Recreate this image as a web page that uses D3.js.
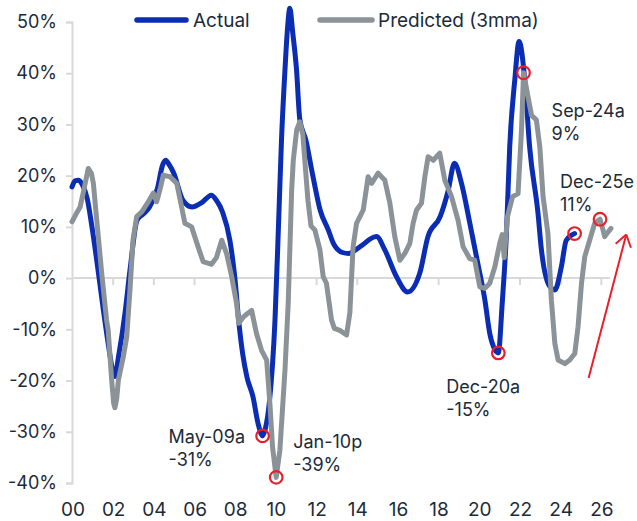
<!DOCTYPE html>
<html>
<head>
<meta charset="utf-8">
<script src="https://cdn.jsdelivr.net/npm/d3@7"></script>
<style>
  body { margin: 0; background: #fff; }
  text { font-family: Inter, "Open Sans", sans-serif; fill: #1c2b39; }
</style>
</head>
<body>
<div id="chart"></div>
<script>
// decimal years and % values
const actualYears = [2000.0, 2000.15, 2000.3, 2000.5, 2000.75, 2001.0, 2001.25, 2001.5, 2001.75, 2002.0, 2002.1, 2002.3, 2002.6, 2002.85,
  2003.2, 2003.5, 2003.8, 2004.2, 2004.45, 2004.6, 2004.8, 2005.0, 2005.45, 2005.9, 2006.4, 2006.85, 2007.1, 2007.4, 2007.76,
  2008.0, 2008.2, 2008.4, 2008.6, 2008.9, 2009.15, 2009.37, 2009.5, 2009.7, 2009.98, 2010.15, 2010.3, 2010.47, 2010.6, 2010.71,
  2010.85, 2011.04, 2011.2, 2011.5, 2011.85, 2012.2, 2012.6, 2012.85, 2013.3, 2013.6, 2014.15, 2014.97, 2015.38, 2015.95, 2016.5,
  2017.1, 2017.5, 2018.1, 2018.5, 2018.8, 2019.15, 2019.56, 2019.95, 2020.3, 2020.54, 2020.8, 2020.96, 2021.15, 2021.36, 2021.52,
  2021.77, 2021.98, 2022.26, 2022.5, 2022.91, 2023.08, 2023.5, 2023.74, 2024.06, 2024.3, 2024.71];
const actualValues = [17.8, 19.0, 19.1, 18.3, 15.5, 9.5, 2.5, -5, -12, -18, -19.2, -15, -7, 1.5,
  11.3, 12.5, 13.8, 17.5, 22, 23, 22, 20.5, 15.2, 13.9, 14.8, 16.2, 15.2, 12.9, 7.4,
  0.3, -8.5, -15, -19.3, -23.2, -28.4, -30.8, -29.5, -24.4, -8.2, 10, 27, 40.6, 49, 52.7,
  48, 40.6, 31, 26.9, 19.8, 13.3, 9.4, 6.8, 5, 4.8, 6.1, 8.1, 5.5, 0.3, -2.7,
  1, 8.1, 12, 17.2, 22.4, 18.5, 10.7, 2.9, -4.3, -10.8, -14, -14.6, -5, 8.8, 25.6,
  38.7, 46.2, 38.7, 25.6, 12.7, 5.5, -1.7, -2.3, 2.2, 7.4, 8.7];

const predYears = [2000.0, 2000.2, 2000.4, 2000.55, 2000.8, 2000.95, 2001.05, 2001.2, 2001.46, 2001.7, 2001.78, 2001.95, 2002.05,
  2002.11, 2002.2, 2002.28, 2002.52, 2002.69, 2002.85, 2003.0, 2003.18, 2003.42, 2003.75, 2004.0, 2004.16, 2004.32, 2004.49,
  2004.82, 2005.15, 2005.39, 2005.55, 2005.88, 2006.2, 2006.45, 2006.86, 2007.1, 2007.36, 2007.6, 2007.85, 2008.09, 2008.2,
  2008.42, 2008.6, 2008.83, 2009.07, 2009.32, 2009.57, 2009.73, 2009.86, 2010.04, 2010.22, 2010.47, 2010.63, 2010.8, 2010.88,
  2011.05, 2011.2, 2011.35, 2011.6, 2011.75, 2011.94, 2012.19, 2012.35, 2012.51, 2012.76, 2012.9, 2013.17, 2013.5, 2013.66,
  2013.82, 2013.99, 2014.32, 2014.56, 2014.73, 2015.05, 2015.38, 2015.63, 2015.87, 2016.12, 2016.36, 2016.61, 2016.77, 2016.94,
  2017.18, 2017.35, 2017.51, 2017.76, 2018.08, 2018.33, 2018.66, 2018.98, 2019.23, 2019.56, 2019.8, 2020.05, 2020.3, 2020.54,
  2020.79, 2021.03, 2021.15, 2021.25, 2021.41, 2021.66, 2021.93, 2022.1, 2022.2, 2022.3, 2022.42, 2022.59, 2022.83, 2023.0,
  2023.16, 2023.4, 2023.57, 2023.74, 2023.9, 2024.23, 2024.47, 2024.72, 2024.88, 2025.05, 2025.21, 2025.45, 2025.7, 2025.96,
  2026.1, 2026.19, 2026.3, 2026.5];
const predValues = [11.0, 12.5, 13.9, 16.6, 21.4, 20.5, 18.5, 12, 1, -8.2, -10.2, -19.9, -24.5,
  -25.3, -23.5, -19.9, -15.4, -11.5, -2.3, 7.4, 12, 12.9, 14.9, 16.6, 14.9, 17.2, 20.1,
  19.8, 18.5, 13.9, 10.7, 10, 6.1, 3.2, 2.7, 4, 7.4, 4.8, 0.3, -4.9, -8.8,
  -7.6, -7.0, -6.3, -10.8, -14.1, -16, -24.5, -33, -38.9, -33.6, -18, -4.9, 17.2, 23,
  29, 30.5, 28, 15.2, 10.2, 9.4, 5.5, 0.3, -1, -8.2, -9.8, -10.2, -11.1, -6.8,
  6.1, 10.7, 13.3, 19.8, 18.5, 20.5, 19.1, 14.6, 8.1, 3.5, 4.8, 6.8, 10.7, 13.3,
  14.6, 19.8, 23.7, 23, 24.4, 19.1, 15.9, 11.3, 6.1, 3.8, 3.5, -1.7, -2, -1,
  2.2, 6.8, 8.5, 4, 12, 15.9, 16.5, 28.9, 40.1, 38, 35.4, 31.8, 30.9, 25.6,
  15.9, 8.7, -4.3, -12.8, -16, -16.7, -16, -14.7, -9.5, -1, 4.2, 7.4, 10.7, 11.5,
  9.5, 8.1, 8.7, 9.7];

const yTicks = [-40, -30, -20, -10, 0, 10, 20, 30, 40, 50];
const xTicks = [2000, 2002, 2004, 2006, 2008, 2010, 2012, 2014, 2016, 2018, 2020, 2022, 2024, 2026];

// highlighted points
const markYears = [2009.37, 2010.04, 2020.96, 2022.2, 2024.71, 2025.96];
const markValues = [-30.8, -38.9, -14.6, 40.1, 8.7, 11.5];
const markLabels = [["May-09a", "-31%"], ["Jan-10p", "-39%"], ["Dec-20a", "-15%"], null, ["Sep-24a", "9%"], ["Dec-25e", "11%"]];

const W = 637, H = 521;
const margin = { top: 22, right: 26, bottom: 38, left: 72 };

const svg = d3.select("#chart").append("svg").attr("width", W).attr("height", H);

const x = d3.scaleLinear().domain([2000, 2026.5]).range([margin.left, 611]);
const y = d3.scaleLinear().domain([-40, 50]).range([483, margin.top]);

// y axis
const yAxis = svg.append("g").attr("transform", "translate(" + margin.left + ",0)")
  .call(d3.axisLeft(y).tickValues(yTicks).tickSize(6).tickPadding(9).tickFormat(d => d + "%"));
yAxis.select(".domain").attr("stroke", "#d9d9d9").attr("stroke-width", 2);
yAxis.selectAll(".tick line").attr("stroke", "#d9d9d9").attr("stroke-width", 2);
yAxis.selectAll("text").style("font-size", "18px").attr("fill", "#1c2b39");

// x axis sits on zero line
const xAxis = svg.append("g").attr("transform", "translate(0," + y(0) + ")")
  .call(d3.axisBottom(x).tickValues(xTicks).tickSize(7).tickFormat(""));
xAxis.select(".domain").attr("stroke", "#d9d9d9").attr("stroke-width", 2).attr("d", "M" + x(2000) + ",0H" + x(2026.45));
xAxis.selectAll(".tick line").attr("stroke", "#d9d9d9").attr("stroke-width", 2);
xAxis.selectAll(".tick").filter(d => d === 2000).select("line").remove();

svg.append("g").selectAll("text").data(xTicks).enter().append("text")
  .attr("x", d => x(d) + 1)
  .attr("y", 516)
  .attr("text-anchor", "middle")
  .style("font-size", "19px")
  .text(d => String(d % 100).padStart(2, "0"));

const line = d3.line().x(d => x(d[0])).y(d => y(d[1]));

svg.append("path")
  .datum(d3.zip(actualYears, actualValues))
  .attr("d", line.curve(d3.curveMonotoneX))
  .attr("fill", "none").attr("stroke", "#0a2db3").attr("stroke-width", 5)
  .attr("stroke-linejoin", "round").attr("stroke-linecap", "round");

svg.append("path")
  .datum(d3.zip(predYears, predValues))
  .attr("d", line.curve(d3.curveLinear))
  .attr("fill", "none").attr("stroke", "#8b9398").attr("stroke-width", 5)
  .attr("stroke-linejoin", "round").attr("stroke-linecap", "round");

// red circles
svg.append("g").selectAll("circle").data(d3.range(markYears.length)).enter().append("circle")
  .attr("cx", i => x(markYears[i]))
  .attr("cy", i => y(markValues[i]))
  .attr("r", 6.3)
  .attr("fill", "none").attr("stroke", "#e8202a").attr("stroke-width", 2.2);

// label offsets from each circle (px)
const labelOffsets = [[-94, 7], [17, -29], [-52, 40], null, [-23, -117], [-40, -31]];
markLabels.forEach((lab, i) => {
  if (!lab) return;
  const t = svg.append("text")
    .attr("x", x(markYears[i]) + labelOffsets[i][0])
    .attr("y", y(markValues[i]) + labelOffsets[i][1])
    .style("font-size", "18px");
  t.append("tspan").text(lab[0]);
  t.append("tspan").attr("x", x(markYears[i]) + labelOffsets[i][0]).attr("dy", 23).text(lab[1]);
});

// red arrow
const ax0 = x(2025.4), ay0 = y(-19.5), ax1 = x(2027.25), ay1 = y(8.5);
svg.append("line").attr("x1", ax0).attr("y1", ay0).attr("x2", ax1).attr("y2", ay1)
  .attr("stroke", "#e8202a").attr("stroke-width", 2);
const ang = Math.atan2(ay1 - ay0, ax1 - ax0);
[-0.6, 0.6].forEach(a => {
  svg.append("line").attr("x1", ax1).attr("y1", ay1)
    .attr("x2", ax1 - 14 * Math.cos(ang + a)).attr("y2", ay1 - 14 * Math.sin(ang + a))
    .attr("stroke", "#e8202a").attr("stroke-width", 2);
});

// legend
const legend = svg.append("g");
legend.append("line").attr("x1", 137).attr("x2", 186).attr("y1", 20).attr("y2", 20)
  .attr("stroke", "#0a2db3").attr("stroke-width", 5.5).attr("stroke-linecap", "round");
legend.append("text").attr("x", 193).attr("y", 27).style("font-size", "19px").text("Actual");
legend.append("line").attr("x1", 320).attr("x2", 372).attr("y1", 20).attr("y2", 20)
  .attr("stroke", "#8b9398").attr("stroke-width", 5.5).attr("stroke-linecap", "round");
legend.append("text").attr("x", 378).attr("y", 27).style("font-size", "19px").text("Predicted (3mma)");
</script>
</body>
</html>
